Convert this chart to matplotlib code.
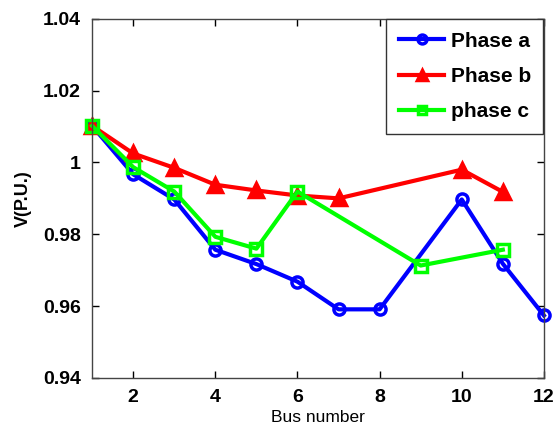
import numpy as np
import matplotlib
matplotlib.use('Agg')
import matplotlib.pyplot as plt

plt.rcParams['font.family'] = ['Liberation Sans', 'DejaVu Sans']

bus_a = [1, 2, 3, 4, 5, 6, 7, 8, 10, 11, 12]
va = [1.0102, 0.9967, 0.9897, 0.9757, 0.9717, 0.9668, 0.9591, 0.9591, 0.9897, 0.9718, 0.9574]

bus_b = [1, 2, 3, 4, 5, 6, 7, 10, 11]
vb = [1.0102, 1.0025, 0.9985, 0.9938, 0.9922, 0.9908, 0.9900, 0.9980, 0.9918]

bus_c = [1, 2, 3, 4, 5, 6, 9, 11]
vc = [1.0102, 0.9987, 0.9919, 0.9793, 0.9760, 0.9919, 0.9713, 0.9757]

xticks = [2, 4, 6, 8, 10, 12]
yticks = [0.94, 0.96, 0.98, 1.00, 1.02, 1.04]
ytick_labels = ['0.94', '0.96', '0.98', '1', '1.02', '1.04']

fig = plt.figure(figsize=(5.55, 4.28), dpi=100)
ax = fig.add_axes([0.166, 0.117, 0.814, 0.839])

ax.plot(bus_a, va, color='#0000ff', lw=3, marker='o', ms=8, mfc='none', mew=2.5,
        label='Phase a', clip_on=False)
ax.plot(bus_b, vb, color='#ff0000', lw=3, marker='^', ms=9.5, mfc='#ff0000', mew=2.5,
        label='Phase b', clip_on=False)
ax.plot(bus_c, vc, color='#00ff00', lw=3, marker='s', ms=8, mfc='none', mew=2.5,
        label='phase c', clip_on=False)

ax.set_xlim(1, 12)
ax.set_ylim(0.94, 1.04)
ax.set_xticks(xticks)
ax.set_yticks(yticks)
ax.set_yticklabels(ytick_labels)
ax.tick_params(direction='in', top=True, right=True, length=5, width=1,
               labelsize=14, pad=8)
for lab in ax.get_xticklabels() + ax.get_yticklabels():
    lab.set_fontweight('bold')
for s in ax.spines.values():
    s.set_color('#444444')
    s.set_linewidth(1)

ax.set_xlabel('Bus number', fontsize=12.5, labelpad=3)
ax.set_ylabel('V(P.U.)', fontsize=13, fontweight='bold', labelpad=8)

leg = ax.legend(loc='upper right', prop={'size': 15, 'weight': 'bold'},
                fancybox=False, edgecolor='#333333', framealpha=1,
                borderaxespad=0.02, handlelength=2.2, labelspacing=0.78,
                handletextpad=0.3, borderpad=0.6, markerscale=0.8)
leg.get_frame().set_linewidth(1)

fig.savefig('out.png', dpi=100)
